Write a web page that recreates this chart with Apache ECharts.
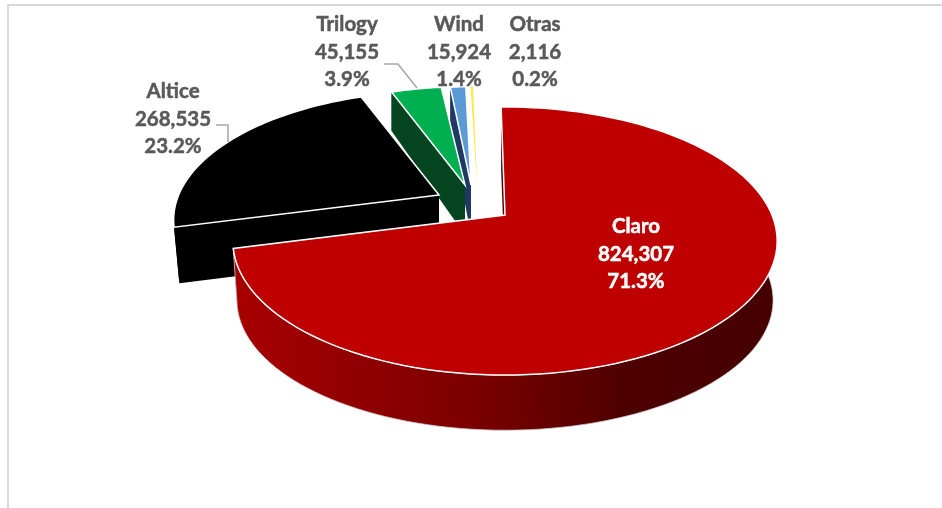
<!DOCTYPE html>
<html>
<head>
<meta charset="utf-8">
<title>Claro Altice</title>
<style>
	html, body { margin: 0; padding: 0; background: #fff; }
	#main { width: 942px; height: 508px; }
</style>
<script src="https://cdn.jsdelivr.net/npm/echarts@6/dist/echarts.min.js"></script>
</head>
<body>
<div id="main"></div>
<script>
var categories = ['Claro', 'Altice', 'Trilogy', 'Wind', 'Otras'];
var values = [824307, 268535, 45155, 15924, 2116];

var topColors = ['#BE0000', '#000000', '#00B050', '#5B9BD5', '#FFE94A'];
var wallColors = ['#4a0000', '#000000', '#04451F', '#203864', '#7F6000'];

// where each exploded slice sits: apex, squeeze of the disc, depth of the wall
var slicePos = [
	{ x: 505, y: 215, sx: 1, sy: 1, dz: 60, wx: 0.985, wy: 0.97 },
	{ x: 439, y: 195, sx: 0.975, sy: 0.96, dz: 56, wx: 0.98, wy: 1 },
	{ x: 465, y: 185, sx: 0.92, sy: 0.91, dz: 50, wx: 1, wy: 1.12 },
	{ x: 471, y: 185, sx: 0.8, sy: 0.91, dz: 50, wx: 1, wy: 1.1 },
	{ x: 477, y: 185, sx: 1, sy: 0.91, dz: 0, wx: 1, wy: 1 }
];
var labelPos = [[636, 254], [173, 119], [347, 52], [459, 52], [535, 52]];
var labelColors = ['#ffffff', '#595959', '#595959', '#595959', '#595959'];
var leaders = [
	[[216, 125], [228, 125], [228, 142]],
	[[384, 64], [398, 64], [417, 88]]
];

var startAngle = -1;
var discA = 267, discB = 129, persp = 0.194;

var total = 0;
for (var i = 0; i < values.length; i++) {
	total += values[i];
}

function sliceAngles(index) {
	var sum = 0;
	for (var i = 0; i < index; i++) {
		sum += values[i];
	}
	return [startAngle + sum / total * 360, startAngle + (sum + values[index]) / total * 360];
}

// circle to screen, near edge bigger than far edge
function rimPoint(angle, p, lower) {
	var rad = angle * Math.PI / 180;
	var u = Math.sin(rad);
	var v = -Math.cos(rad);
	var w = 1 - persp * v;
	var dx = discA * u / w * p.sx;
	var dy = discB * v / w * p.sy;
	if (lower) {
		return [p.x + dx * p.wx, p.y + p.dz + dy * p.wy];
	}
	return [p.x + dx, p.y + dy];
}

function arcPoints(a0, a1, p, lower) {
	var pts = [];
	var n = Math.max(2, Math.ceil(Math.abs(a1 - a0) / 2));
	for (var i = 0; i <= n; i++) {
		pts.push(rimPoint(a0 + (a1 - a0) * i / n, p, lower));
	}
	return pts;
}

function poly(points, fill, stroke, width) {
	return {
		type: 'polygon',
		shape: { points: points },
		style: { fill: fill, stroke: stroke || null, lineWidth: width || 0 }
	};
}

function renderSlice(params, api) {
	var idx = api.value(0);
	var p = slicePos[idx];
	var ang = sliceAngles(idx);
	var apex = [p.x, p.y];
	var apexLow = [p.x, p.y + p.dz];
	var children = [];

	var wallFill = wallColors[idx];
	if (idx === 0) {
		wallFill = {
			type: 'linear', x: 0, y: 0, x2: 1, y2: 0,
			colorStops: [
				{ offset: 0, color: '#A80000' },
				{ offset: 0.45, color: '#7A0000' },
				{ offset: 0.72, color: '#4E0000' },
				{ offset: 1, color: '#450000' }
			]
		};
	}

	// cut faces
	children.push(poly([apex, rimPoint(ang[0], p), rimPoint(ang[0], p, true), apexLow], wallColors[idx]));
	children.push(poly([apex, rimPoint(ang[1], p), rimPoint(ang[1], p, true), apexLow], wallColors[idx]));

	// outer wall, front part only for the big slice
	var a0 = idx === 0 ? 60 : ang[0];
	var wall = arcPoints(a0, ang[1], p).concat(arcPoints(ang[1], a0, p, true));
	children.push(idx === 0 ? poly(wall, wallFill, '#CFCFCF', 0.8) : poly(wall, wallFill));

	// top face, the yellow sliver is too thin for a border
	var top = [apex].concat(arcPoints(ang[0], ang[1], p));
	children.push(idx === 4 ? poly(top, topColors[idx]) : poly(top, topColors[idx], '#ffffff', 1.5));

	return { type: 'group', children: children };
}

function renderLabel(params, api) {
	var idx = api.value(0);
	var pos = labelPos[idx];
	var pct = (values[idx] / total * 100).toFixed(1) + '%';
	return {
		type: 'text',
		x: pos[0],
		y: pos[1],
		style: {
			text: categories[idx] + '\n' + values[idx].toLocaleString('en-US') + '\n' + pct,
			fill: labelColors[idx],
			stroke: labelColors[idx],
			lineWidth: 0.5,
			fontFamily: 'Lato',
			fontWeight: 'bold',
			fontSize: 20.5,
			lineHeight: 27.5,
			align: 'center',
			verticalAlign: 'middle'
		}
	};
}

// back slices first so the big one lies on top
var sliceData = [];
var labelData = [];
for (var j = categories.length - 1; j >= 0; j--) {
	sliceData.push([j, values[j]]);
	labelData.push([j, values[j]]);
}

var graphics = [{
	type: 'polyline',
	shape: { points: [[8, 508], [8, 5], [942, 5]] },
	style: { stroke: '#D9D9D9', lineWidth: 2, fill: null }
}];
for (var k = 0; k < leaders.length; k++) {
	graphics.push({
		type: 'polyline',
		z: 3,
		shape: { points: leaders[k] },
		style: { stroke: '#A6A6A6', lineWidth: 1.5, fill: null }
	});
}

var myChart = echarts.init(document.getElementById('main'));
var option = {
	backgroundColor: '#ffffff',
	animation: false,
	graphic: graphics,
	series: [{
		type: 'custom',
		coordinateSystem: 'none',
		renderItem: renderSlice,
		data: sliceData,
		z: 2,
		silent: true
	}, {
		type: 'custom',
		coordinateSystem: 'none',
		renderItem: renderLabel,
		data: labelData,
		z: 5,
		silent: true
	}]
};
myChart.setOption(option);
</script>
</body>
</html>
